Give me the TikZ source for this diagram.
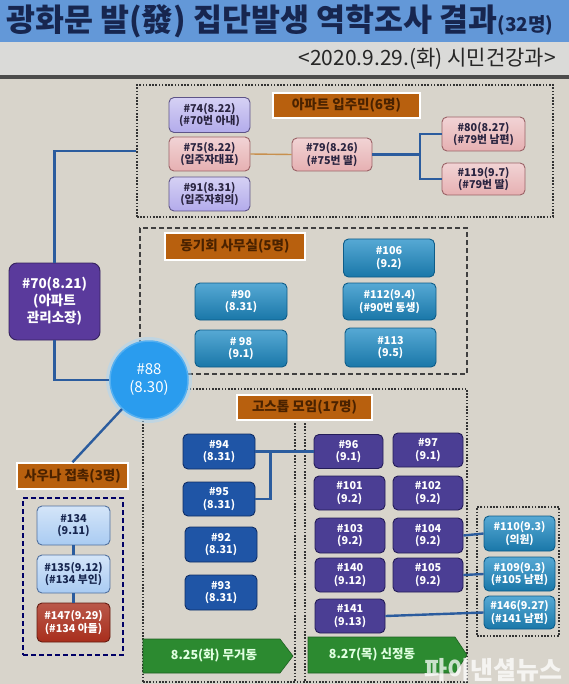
\documentclass[tikz,border=0pt]{standalone}
\usepackage{fontspec}
\setmainfont{Noto Sans CJK KR}
\usetikzlibrary{shapes.geometric}
\definecolor{bg}{HTML}{D8D4CB}
\definecolor{titleblue}{HTML}{6398D8}
\definecolor{titletext}{HTML}{17264F}
\definecolor{strip}{HTML}{DADAD8}
\definecolor{lavc}{HTML}{B3ABEB}
\definecolor{lavd}{HTML}{5E5488}
\definecolor{pinkc}{HTML}{E6B0B2}
\definecolor{pinkd}{HTML}{9A6266}
\definecolor{tealc}{HTML}{1E8CC6}
\definecolor{teald}{HTML}{0E5C88}
\definecolor{dbluec}{HTML}{1F55A6}
\definecolor{dblued}{HTML}{102E66}
\definecolor{purpc}{HTML}{4B3E94}
\definecolor{purpd}{HTML}{241C58}
\definecolor{mgrc}{HTML}{5A3A9C}
\definecolor{circc}{HTML}{2A9CEE}
\definecolor{orangel}{HTML}{B8600E}
\definecolor{orangetext}{HTML}{4A2200}
\definecolor{grnc}{HTML}{2C8A30}
\definecolor{skyc}{HTML}{A9CBF2}
\definecolor{skyd}{HTML}{50709E}
\definecolor{redc}{HTML}{A82E1C}
\definecolor{connc}{HTML}{2B5C9E}
\definecolor{tanc}{HTML}{C8904E}
\definecolor{darktxt}{HTML}{2A2440}
\tikzset{
  sz/.style 2 args={minimum width=#1pt, minimum height=#2pt},
  base/.style={rounded corners=5pt, line width=0.9pt, align=center, inner sep=0pt,
    font=\bfseries\fontsize{10.8}{12.6}\selectfont},
  lav/.style={base, draw=lavd, top color=lavc!55!white, bottom color=lavc, text=darktxt},
  pnk/.style={base, draw=pinkd, top color=pinkc!55!white, bottom color=pinkc, text=darktxt},
  tl/.style={base, draw=teald, top color=tealc!75!white, bottom color=tealc!85!black, text=white},
  db/.style={base, draw=dblued, fill=dbluec, text=white},
  pu/.style={base, draw=purpd, fill=purpc, text=white},
  sky/.style={base, draw=skyd, top color=skyc!50!white, bottom color=skyc, text=titletext},
  lbl/.style={draw=white, line width=1.5pt, fill=orangel, text=orangetext, inner sep=0pt,
    font=\bfseries\fontsize{13.5}{15}\selectfont},
  dotbox/.style={draw=black!80, line width=1.6pt, dash pattern=on 1.6pt off 1.6pt, inner sep=0pt},
  dashbox/.style={draw=black!75, line width=1.4pt, dash pattern=on 5pt off 3pt, inner sep=0pt},
  cn/.style={draw=connc, line width=2.4pt},
  arr/.style={fill=grnc, draw=grnc!70!black, line width=0.6pt},
  arrtxt/.style={text=green!12!white, font=\bfseries\fontsize{12.5}{14}\selectfont},
}
\begin{document}
\begin{tikzpicture}[x=1pt, y=-1pt]
\useasboundingbox (0,0) rectangle (569,684);
\fill[bg] (0,0) rectangle (569,684);
% title
\fill[titleblue] (0,0) rectangle (569,42);
\fill[strip] (0,42) rectangle (569,75);
\fill[black!70] (0,75) rectangle (569,79);
\node[anchor=west, inner sep=0pt, text=titletext, font=\bfseries\fontsize{31.5}{34}\selectfont] (title) at (6,21)
  {광화문 발(發) 집단발생 역학조사 결과{\fontsize{19}{22}\selectfont(32명)}};
\node[anchor=east, inner sep=0pt, text=black!85, font=\fontsize{21}{23}\selectfont] (sub) at (556,59)
  {<2020.9.29.(화) 시민건강과>};

% top box
\node[dotbox, sz={416}{132}] (topbox) at (345,151) {};
\node[lbl, sz={147}{25}] (lblA) at (346.5,105.5) {아파트 입주민(6명)};
\node[lav, sz={81}{35}] (n74) at (209.5,115) {\#74(8.22)\\(\#70번 아내)};
\node[pnk, sz={81}{34}] (n75) at (209.5,154) {\#75(8.22)\\(입주자대표)};
\node[lav, sz={81}{34}] (n91) at (209.5,194) {\#91(8.31)\\(입주자회의)};
\node[pnk, sz={80}{33}] (n79) at (332,154.5) {\#79(8.26)\\(\#75번 딸)};
\node[pnk, sz={83}{34}] (n80) at (483.5,134) {\#80(8.27)\\(\#79번 남편)};
\node[pnk, sz={83}{32}] (n119) at (483.5,179) {\#119(9.7)\\(\#79번 딸)};
\draw[tanc, line width=1.4pt] (n75.east) -- (n79.west);
\draw[cn] (n79.east) -- (420,154.5) coordinate (f1);
\draw[cn] (n80.west) -| (f1);
\draw[cn] (n119.west) -| (f1);

% middle box
\node[dashbox, sz={327}{146}] (midbox) at (303.5,301) {};
\node[lbl, sz={140}{27}] (lblB) at (235,246.5) {동기회 사무실(5명)};
\node[tl, sz={92}{37}] (n90) at (241,301.5) {\#90\\(8.31)};
\node[tl, sz={92}{37}] (n98) at (241,348.5) {\# 98\\(9.1)};
\node[tl, sz={91}{38}] (n106) at (389,258) {\#106\\(9.2)};
\node[tl, sz={93}{37}] (n112) at (389.5,301.5) {\#112(9.4)\\(\#90번 동생)};
\node[tl, sz={91}{39}] (n113) at (390.5,347.5) {\#113\\(9.5)};

% big box
\node[dotbox, sz={324}{293}] (bigbox) at (305,535.5) {};
\coordinate (sepL1) at (295,423);
\coordinate (sepL2) at (295,682);
\coordinate (sepR1) at (305,423);
\coordinate (sepR2) at (305,682);
\draw[dotbox] (sepL1) -- (sepL2);
\draw[dotbox] (sepR1) -- (sepR2);
\node[lbl, sz={135}{25}] (lblC) at (304.5,407.5) {고스톱 모임(17명)};
\node[db, sz={72}{35}] (n94) at (219,451.5) {\#94\\(8.31)};
\node[db, sz={72}{34}] (n95) at (219,499) {\#95\\(8.31)};
\node[db, sz={72}{35}] (n92) at (221,544.5) {\#92\\(8.31)};
\node[db, sz={72}{35}] (n93) at (221,592.5) {\#93\\(8.31)};
\node[pu, sz={69}{34}] (n96) at (348.5,451.5) {\#96\\(9.1)};
\node[pu, sz={70}{34}] (n97) at (428,450) {\#97\\(9.1)};
\node[pu, sz={71}{34}] (n101) at (349.5,493) {\#101\\(9.2)};
\node[pu, sz={70}{34}] (n102) at (428,493) {\#102\\(9.2)};
\node[pu, sz={70}{35}] (n103) at (350,535.5) {\#103\\(9.2)};
\node[pu, sz={70}{35}] (n104) at (428,535.5) {\#104\\(9.2)};
\node[pu, sz={70}{34}] (n140) at (350,575) {\#140\\(9.12)};
\node[pu, sz={70}{34}] (n105) at (428,575) {\#105\\(9.2)};
\node[pu, sz={70}{34}] (n141) at (350,616) {\#141\\(9.13)};
\draw[cn] (n94.east) -- (n96.west);
\draw[cn] (n95.east) -- ++(15,0) |- (n94.east);
% small box
\node[dotbox, sz={82}{129}] (smallbox) at (518,571.5) {};
\node[tl, sz={71}{35}] (n110) at (519.5,533.5) {\#110(9.3)\\(의원)};
\node[tl, sz={71}{34}] (n109) at (519.5,574) {\#109(9.3)\\(\#105 남편)};
\node[tl, sz={71}{33}] (n146) at (519.5,612.5) {\#146(9.27)\\(\#141 남편)};
\draw[cn] (n104.east) -- (n110.west);
\draw[cn] (n105.east) -- (n109.west);
\draw[cn] (n141.east) -- (n146.west);
% green arrows
\draw[arr] (143,639) -- (280,639) -- (293,656) -- (280,673) -- (143,673) -- cycle;
\node[arrtxt] (ga) at (214,656) {8.25(화) 무거동};
\draw[arr] (308,637) -- (455,637) -- (467,655) -- (455,673) -- (308,673) -- cycle;
\node[arrtxt] (gb) at (372,655) {8.27(목) 신정동};

% #70 and #88
\node[base, draw=mgrc!60!black, fill=mgrc, text=white, sz={91}{77}, rounded corners=8pt,
  font=\bfseries\fontsize{13.5}{17}\selectfont] (n70) at (54.5,301.5) {\#70(8.21)\\(아파트\\관리소장)};
\draw[cn] (n70.north) |- (topbox.west);
\fill[circc!40, opacity=0.5] (149,380) circle (43);
\node[circle, fill=circc, draw=circc!80!white, line width=1.5pt, minimum size=78pt, inner sep=0pt, align=center,
  text=white, font=\fontsize{15}{18}\selectfont] (n88) at (149,380) {\#88\\(8.30)};
\draw[cn] (n70.south) |- (n88.west);

% sauna
\node[lbl, sz={111}{26}] (lblD) at (72.5,476) {사우나 접촉(3명)};
\draw[cn] (lblD.north) -- (n88);
\node[dashbox, draw=black!60!blue, sz={100}{157}] (saunabox) at (73,576.5) {};
\node[sky, sz={73}{39}] (n134) at (73.5,525.5) {\#134\\(9.11)};
\node[sky, sz={73}{38}] (n135) at (73.5,574) {\#135(9.12)\\(\#134 부인)};
\node[base, draw=redc!60!black, top color=redc!80!white, bottom color=redc, text=white, sz={73}{39}] (n147) at (73.5,622.5) {\#147(9.29)\\(\#134 아들)};
\draw[cn] (n134.south) -- (n135.north);
\draw[cn] (n135.south) -- (n147.north);

% watermark
\node[text=white, opacity=0.75, font=\bfseries\fontsize{25}{27}\selectfont] (wm) at (493,670) {파이낸셜뉴스};
\end{tikzpicture}
\end{document}
